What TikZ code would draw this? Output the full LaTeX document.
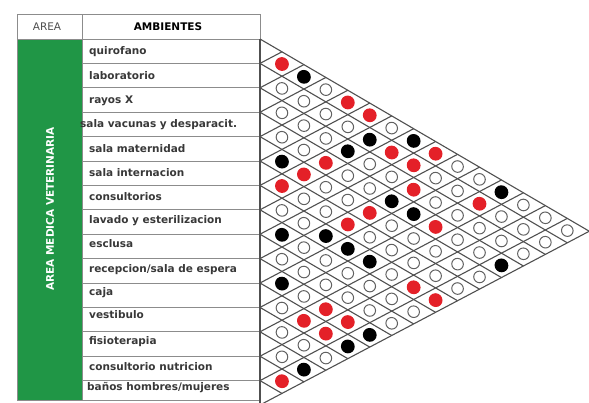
\documentclass[tikz,border=0pt]{standalone}
\usepackage{fontspec}
\setmainfont{DejaVu Sans}
\usepackage{xcolor}
\usepackage{tikz}

\definecolor{verde}{RGB}{32,150,70}
\definecolor{rojo}{RGB}{228,32,40}
\definecolor{gris}{RGB}{80,80,80}

\begin{document}
\begin{tikzpicture}[x=1pt, y=-1pt,
  tabla/.style={draw=black!45, line width=0.9pt},
  rejilla/.style={draw=gris, line width=1.1pt},
  ambiente/.style={anchor=base west, inner sep=0pt, font=\bfseries\fontsize{10.5}{12}\selectfont, text=black!78},
  encabezado/.style={inner sep=0pt, font=\fontsize{10.5}{12}\selectfont, text=black!70},
  libre/.style={draw=gris!90, fill=white, line width=1pt},
  media/.style={fill=rojo},
  fuerte/.style={fill=black}]

\useasboundingbox (0,0) rectangle (589,402);

% Table
\fill[verde] (17,39) rectangle (82,400);
\draw[tabla] (17,14) rectangle (260,400);
\draw[tabla] (17,39) -- (260,39);
\draw[tabla] (82,14) -- (82,400);
\foreach \m in {1,...,14}
  \draw[tabla] (82,39+24.4*\m) -- (260,39+24.4*\m);

% Headers
\node[encabezado] (area) at (47,27) {AREA};
\node[encabezado, font=\bfseries\fontsize{10.5}{12}\selectfont, text=black] (ambientes) at (168,27) {AMBIENTES};
\node[rotate=90, text=white, font=\bfseries\fontsize{10.5}{12}\selectfont] (areamed) at (50,209) {AREA MEDICA VETERINARIA};

% Rooms
\node[ambiente] (quirofano) at (89,54.7) {quirofano};
\node[ambiente] (laboratorio) at (89,79.1) {laboratorio};
\node[ambiente] (rayos) at (89,103.5) {rayos X};
\node[ambiente] (vacunas) at (80,127.9) {sala vacunas y desparacit.};
\node[ambiente] (maternidad) at (89,152.3) {sala maternidad};
\node[ambiente] (internacion) at (89,176.7) {sala internacion};
\node[ambiente] (consultorios) at (89,200.5) {consultorios};
\node[ambiente] (lavado) at (89,223) {lavado y esterilizacion};
\node[ambiente] (esclusa) at (89,247) {esclusa};
\node[ambiente] (recepcion) at (89,272) {recepcion/sala de espera};
\node[ambiente] (caja) at (89,295) {caja};
\node[ambiente] (vestibulo) at (89,318) {vestibulo};
\node[ambiente] (fisioterapia) at (89,344) {fisioterapia};
\node[ambiente] (nutricion) at (89,370) {consultorio nutricion};
\node[ambiente] (banos) at (87,390) {baños hombres/mujeres};

% Relation matrix
\begin{scope}[shift={(260,0)}, yslant=-0.028]
  \draw[rejilla] (0,39) -- (0,405);
  \foreach \m in {0,...,14}
    \draw[rejilla] (0,39+24.4*\m) -- ({21.95*(15-\m)},{39+24.4*\m+12.2*(15-\m)});
  \foreach \m in {1,...,15}
    \draw[rejilla] (0,39+24.4*\m) -- ({21.95*\m},{39+24.4*\m-12.2*\m});
  % cells
  \foreach \i in {1,...,14} {
    \pgfmathtruncatemacro{\desde}{\i+1}
    \foreach \j in {\desde,...,15} {
      \coordinate (p-\i-\j) at ({21.95*(\j-\i)},{39+12.2*(\i+\j-1)});
      \draw[libre] (p-\i-\j) circle (5.8pt);
    }
  }
  \foreach \i/\j in {1/2, 1/5, 1/6, 2/8, 1/9, 4/7, 2/9, 5/7, 6/7, 3/10, 2/12,
                     5/10, 6/10, 4/12, 7/14, 7/15, 10/13, 11/13, 10/14, 11/14, 14/15}
    \fill[media] (p-\i-\j) circle (6.9pt);
  \foreach \i/\j in {1/3, 2/7, 1/8, 3/7, 5/6, 1/12, 4/10, 4/11, 8/9, 7/10, 7/11,
                     7/12, 10/11, 10/15, 11/15, 13/15, 4/15}
    \fill[fuerte] (p-\i-\j) circle (6.9pt);
\end{scope}

\end{tikzpicture}
\end{document}
